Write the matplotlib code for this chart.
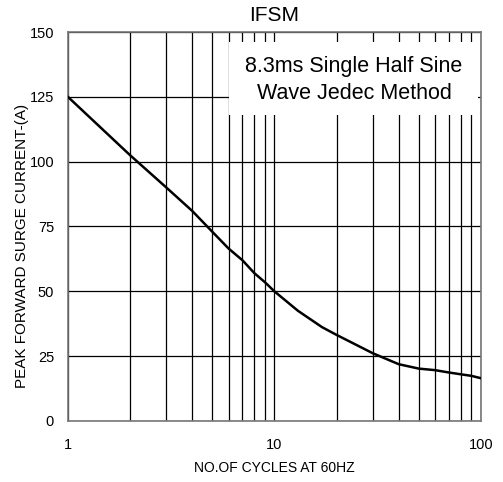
import matplotlib
matplotlib.use("Agg")
import matplotlib.pyplot as plt
from matplotlib.patches import Rectangle
from matplotlib.ticker import FixedLocator, NullFormatter

plt.rcParams['font.family'] = ['Liberation Sans', 'DejaVu Sans']

# curve
cycles = [1, 2, 3, 4, 5, 6, 7, 8, 9, 10, 13, 17, 20, 30, 40, 50, 60, 70, 80, 90, 100]
surge = [125, 102.5, 90, 81, 73, 66.5, 62, 57, 53.5, 50, 42.5, 36.2, 33.2, 26.1, 21.9,
         20.2, 19.6, 18.7, 18.0, 17.4, 16.5]

y_ticks = [0, 25, 50, 75, 100, 125, 150]
x_ticks = [1, 10, 100]
x_minor = [2, 3, 4, 5, 6, 7, 8, 9, 20, 30, 40, 50, 60, 70, 80, 90]

fig = plt.figure(figsize=(5.03, 4.82), dpi=100)
ax = fig.add_axes([0.135, 0.1266, 0.821, 0.807])

ax.set_xscale('log')
ax.set_xlim(1, 100)
ax.set_ylim(0, 150)
ax.xaxis.set_major_locator(FixedLocator(x_ticks))
ax.xaxis.set_minor_locator(FixedLocator(x_minor))
ax.xaxis.set_minor_formatter(NullFormatter())
ax.set_xticks(x_ticks)
ax.set_xticklabels(['1', '10', '100'])
ax.set_yticks(y_ticks)
ax.tick_params(which='both', length=0, labelsize=10.5, pad=10)
ax.tick_params(axis='x', pad=12)

ax.grid(True, which='both', axis='x', color='black', linewidth=0.9)
ax.grid(True, which='major', axis='y', color='black', linewidth=0.9)
ax.set_axisbelow(True)
for s in ax.spines.values():
    s.set_color('#777777')
    s.set_linewidth(1.2)

# white note box covering the grid
ax.add_patch(Rectangle((6.05, 118), 96.7 - 6.05, 146.3 - 118, facecolor='white',
                       edgecolor='none', zorder=1.5))
ax.text(24.3, 131.5, '8.3ms Single Half Sine\nWave Jedec Method', ha='center', va='center',
        fontsize=15.5, linespacing=1.4, zorder=3)

ax.plot(cycles, surge, color='black', linewidth=1.8, zorder=4)

ax.set_title('IFSM', fontsize=15, pad=8)
ax.set_xlabel('NO.OF CYCLES AT 60HZ', fontsize=10, labelpad=7)
ax.set_ylabel('PEAK FORWARD SURGE CURRENT-(A)', fontsize=11)
ax.yaxis.set_label_coords(-0.095, 0.45)

fig.savefig('out.png', dpi=100)
